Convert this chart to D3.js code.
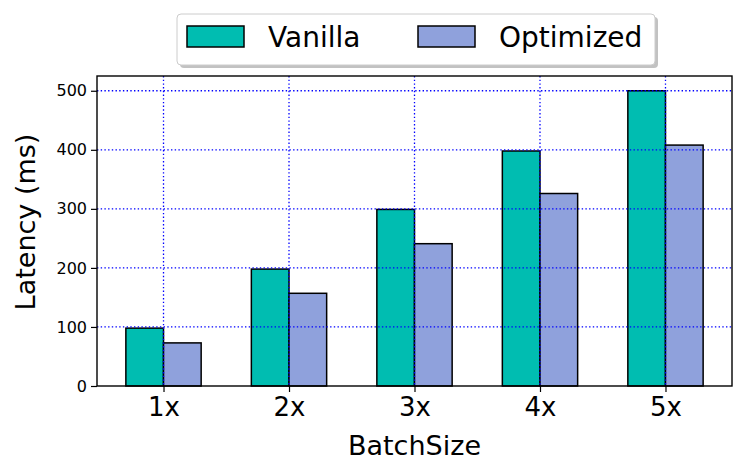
<!DOCTYPE html>
<html><head><meta charset="utf-8">
<script src="https://cdn.jsdelivr.net/npm/d3@7"></script>
<style>body{margin:0;background:#fff;}svg{display:block;font-family:"DejaVu Sans",sans-serif;}</style>
</head><body>
<svg id="c" width="747" height="476"></svg>
<script>
const categories = ["1x","2x","3x","4x","5x"];
const seriesNames = ["Vanilla","Optimized"];
const vanilla = [98, 198, 299, 398, 500];
const optimized = [73, 157, 241, 326, 408];
const yTicks = [0,100,200,300,400,500];
const colors = ["#00bdb1","#8fa1dc"];

const svg = d3.select("#c");
const L = 97, R = 732, T = 76, B = 386;
const x = d3.scaleLinear().domain([-0.53, 4.53]).range([L, R]);
const y = d3.scaleLinear().domain([0, 525]).range([B, T]);
const bw = 0.3;
const data = [vanilla, optimized];

// bars
data.forEach((vals, s) => {
  svg.append("g").selectAll("rect").data(vals).join("rect")
    .attr("x", (d,i) => x(i + (s === 0 ? -bw : 0)))
    .attr("y", d => y(d))
    .attr("width", x(bw) - x(0))
    .attr("height", d => y(0) - y(d))
    .attr("fill", colors[s])
    .attr("stroke", "#000")
    .attr("stroke-width", 1.5);
});

// grid on top
const grid = svg.append("g").attr("stroke", "#0000ff").attr("stroke-width", 1.3)
  .attr("stroke-dasharray", "1.4,2.3");
grid.selectAll(".gy").data(yTicks.slice(1)).join("line")
  .attr("x1", L).attr("x2", R).attr("y1", d => y(d)).attr("y2", d => y(d));
grid.selectAll(".gx").data(categories).join("line")
  .attr("x1", (d,i) => x(i)).attr("x2", (d,i) => x(i)).attr("y1", T).attr("y2", B);

// axes
const yAxis = d3.axisLeft(y).tickValues(yTicks).tickSize(6).tickPadding(4);
const gy = svg.append("g").attr("transform", `translate(${L},0)`).call(yAxis);
gy.select(".domain").remove();
gy.selectAll("text").attr("font-size", 16).attr("font-family", "DejaVu Sans").attr("fill", "#000");
gy.selectAll("line").attr("stroke", "#000").attr("stroke-width", 1.2);

const xAxis = d3.axisBottom(x).tickValues(d3.range(categories.length)).tickFormat(i => categories[i]).tickSize(6).tickPadding(6);
const gx = svg.append("g").attr("transform", `translate(0,${B})`).call(xAxis);
gx.select(".domain").remove();
gx.selectAll("text").attr("font-size", 26).attr("font-family", "DejaVu Sans").attr("fill", "#000");
gx.selectAll("line").attr("stroke", "#000").attr("stroke-width", 1.2);

// frame
svg.append("rect").attr("x", L).attr("y", T).attr("width", R - L).attr("height", B - T)
  .attr("fill", "none").attr("stroke", "#000").attr("stroke-width", 1.4);

// labels
svg.append("text").attr("x", (L + R) / 2).attr("y", 455).attr("text-anchor", "middle")
  .attr("font-size", 27).text("BatchSize");
svg.append("text").attr("transform", "translate(35,222) rotate(-90)").attr("text-anchor", "middle")
  .attr("font-size", 27).text("Latency (ms)");

// legend
const lg = svg.append("g");
lg.append("rect").attr("x", 180).attr("y", 17).attr("width", 478).attr("height", 51).attr("rx", 4)
  .attr("fill", "#999").attr("opacity", 0.6);
lg.append("rect").attr("x", 177).attr("y", 14).attr("width", 478).attr("height", 51).attr("rx", 4)
  .attr("fill", "#fff").attr("stroke", "#ccc").attr("stroke-width", 1);
const legX = [187, 418];
seriesNames.forEach((n, s) => {
  lg.append("rect").attr("x", legX[s]).attr("y", 26).attr("width", 57).attr("height", 21)
    .attr("fill", colors[s]).attr("stroke", "#000").attr("stroke-width", 1.5);
  lg.append("text").attr("x", legX[s] + 81).attr("y", 47).attr("font-size", 28).text(n);
});
</script>
</body></html>
